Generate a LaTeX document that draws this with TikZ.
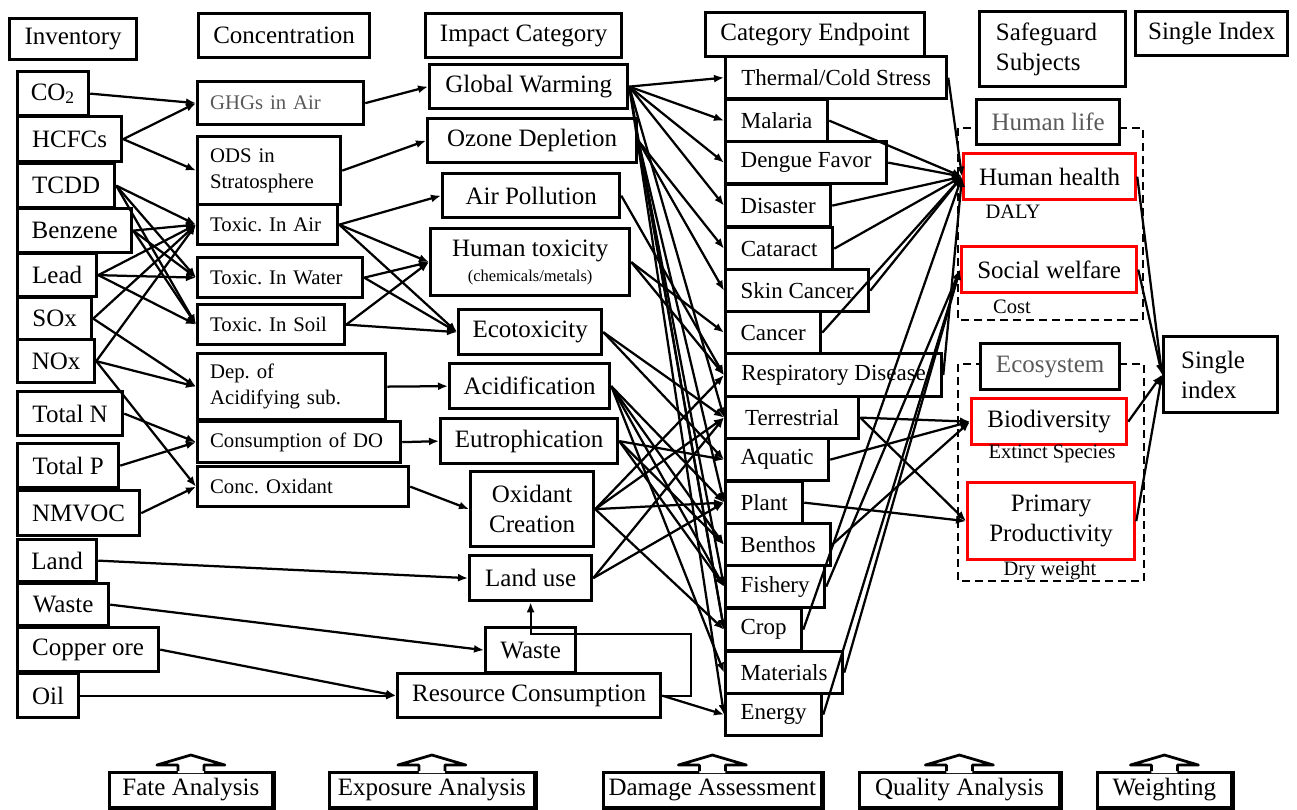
\documentclass[tikz,border=0pt]{standalone}
\usepackage{fontspec}
\setmainfont{Liberation Serif}
\usetikzlibrary{arrows.meta}
\frenchspacing

\begin{document}
\begin{tikzpicture}[
  x=0.4pt,
  y=-0.4pt,
  bw/.style={minimum width=#1*0.4pt},
  bh/.style={minimum height=#1*0.4pt},
  cell/.style={
    draw=black,
    line width=1.3pt,
    fill=white,
    anchor=north west,
    inner sep=1pt,
    align=center,
    font={\fontsize{10}{12}\selectfont}
  },
  leftcell/.style={cell, bw=#1, text width=#1*0.4pt-13pt, inner xsep=6.5pt, align=left},
  header/.style={cell, bh=44},
  inv/.style={cell, bh=44},
  conc/.style={
    cell, bw=#1, text width=#1*0.4pt-10pt, bh=40,
    inner xsep=5pt, align=left,
    font={\fontsize{8.3}{10.4}\selectfont}
  },
  impact/.style={cell, bh=44},
  endp/.style={cell, bh=42, font={\fontsize{9.2}{11}\selectfont}},
  guard/.style={cell, draw=red, bh=46},
  grouphead/.style={cell, bh=45, text=black!65},
  stage/.style={cell, bh=35, line width=1.1pt},
  note/.style={font={\fontsize{8.2}{10}\selectfont}},
  frame/.style={draw=black, line width=1.1pt, dash pattern=on 3.2pt off 2pt},
  link/.style={draw=black, line width=0.9pt, -{Latex[length=4pt,width=3.2pt]}}
]

% page size of the reference, all coordinates in pixels (y grows downwards)
\useasboundingbox (0,0) rectangle (1297,809);

% dashed groups of the safeguard subjects sit underneath
\draw[frame] (958,128) rectangle (1143,320);
\draw[frame] (958,364) rectangle (1144,581);

% column headers
\node[header, bw=127, bh=41] (hinv) at (8,17) {Inventory};
\node[header, bw=171] (hconc) at (197,12) {Concentration};
\node[header, bw=196] (himp) at (424,12) {Impact Category};
\node[header, bw=219] (hend) at (704,11) {Category Endpoint};
\node[leftcell=146, bh=75] (hsafe) at (978,10) {Safeguard\\Subjects};
\node[header, bw=152] (hidx) at (1134,10) {Single Index};

% inventory
\node[inv, bw=71] (co2) at (16,70) {CO\textsubscript{2}};
\node[inv, bw=104, bh=45] (hcfc) at (16,115) {HCFCs};
\node[inv, bw=97] (tcdd) at (16,162) {TCDD};
\node[inv, bw=114] (benz) at (16,207) {Benzene};
\node[inv, bw=79, bh=43] (lead) at (16,252) {Lead};
\node[inv, bw=74, bh=42] (sox) at (16,296) {SOx};
\node[inv, bw=77, bh=43] (nox) at (16,338) {NOx};
\node[inv, bw=105] (totn) at (16,390) {Total N};
\node[inv, bw=101] (totp) at (16,442) {Total P};
\node[inv, bw=122, bh=45] (nmvoc) at (16,489) {NMVOC};
\node[inv, bw=79, bh=42] (land) at (16,538) {Land};
\node[inv, bw=91, bh=42] (wastein) at (16,582) {Waste};
\node[inv, bw=141] (copper) at (16,626) {Copper ore};
\node[inv, bw=61] (oil) at (16,672) {Oil};

% concentration
\node[conc=166, bh=43, text=black!65] (ghg) at (196,80) {GHGs in Air};
\node[conc=143, bh=68] (ods) at (196,135) {ODS in\\Stratosphere};
\node[conc=140] (tair) at (196,203) {Toxic. In Air};
\node[conc=165] (twat) at (196,256) {Toxic. In Water};
\node[conc=147] (tsoil) at (196,303) {Toxic. In Soil};
\node[conc=188, bh=66] (dep) at (196,352) {Dep. of\\Acidifying sub.};
\node[conc=203, bh=41] (cdo) at (196,420) {Consumption of DO};
\node[conc=211] (cox) at (196,465) {Conc. Oxidant};

% impact categories
\node[impact, bw=198] (gw) at (428,63) {Global Warming};
\node[impact, bw=209] (od) at (426,117) {Ozone Depletion};
\node[impact, bw=177] (ap) at (441,172) {Air Pollution};
\node[impact, bw=199, bh=67] (ht) at (429,227)
  {Human toxicity\\[-2pt]{\fontsize{6.6}{8}\selectfont(chemicals/metals)}};
\node[impact, bw=143, bh=45] (eco) at (457,308) {Ecotoxicity};
\node[impact, bw=160, bh=45] (acid) at (448,362) {Acidification};
\node[impact, bw=177, bh=45] (eut) at (439,417) {Eutrophication};
\node[impact, bw=123, bh=75] (oxc) at (469,470) {Oxidant\\Creation};
\node[impact, bw=122, bh=45] (lu) at (468,554) {Land use};
\node[impact, bw=90, bh=45] (wst) at (484,626) {Waste};
\node[impact, bw=263] (rc) at (396,672) {Resource Consumption};

% category endpoints
\node[endp, bw=221] (tcs) at (724,55) {Thermal/Cold Stress};
\node[endp, bw=102] (mal) at (724,98) {Malaria};
\node[endp, bw=161] (den) at (724,140) {Dengue Favor};
\node[endp, bw=105] (dis) at (724,183) {Disaster};
\node[endp, bw=107] (cat) at (724,226) {Cataract};
\node[endp, bw=143] (skin) at (724,268) {Skin Cancer};
\node[endp, bw=95] (canc) at (724,310) {Cancer};
\node[endp, bw=216, bh=43] (resp) at (724,352) {Respiratory Disease};
\node[endp, bw=133] (terr) at (724,395) {Terrestrial};
\node[endp, bw=103] (aqu) at (724,437) {Aquatic};
\node[endp, bw=77] (plant) at (724,480) {Plant};
\node[endp, bw=105] (ben) at (724,522) {Benthos};
\node[endp, bw=99] (fish) at (724,564) {Fishery};
\node[endp, bw=76] (crop) at (724,607) {Crop};
\node[endp, bw=117] (mat) at (724,650) {Materials};
\node[endp, bw=96] (ene) at (724,692) {Energy};

% safeguard subjects
\node[grouphead, bw=143] (hlife) at (975,98) {Human life};
\node[guard, bw=172] (hh) at (962,152) {Human health};
\node[guard, bw=175] (sw) at (960,245) {Social welfare};
\node[grouphead, bw=139, bh=46] (ecos) at (979,342) {Ecosystem};
\node[guard, bw=155] (bio) at (970,397) {Biodiversity};
\node[guard, bw=167, bh=77] (pp) at (966,481) {Primary\\Productivity};
\node[note] (daly) at (1013,212) {DALY};
\node[note] (cost) at (1012,307) {Cost};
\node[note] (ext) at (1052,454) {Extinct Species};
\node[note] (dry) at (1050,571) {Dry weight};

% single index
\node[leftcell=111, bh=76, inner xsep=7pt] (si) at (1162,335) {Single\\index};

% analysis steps along the bottom
\node[stage, bw=163] (fate) at (108,771) {Fate Analysis};
\node[stage, bw=205] (expo) at (328,771) {Exposure Analysis};
\node[stage, bw=218] (dmg) at (602,771) {Damage Assessment};
\node[stage, bw=200] (qual) at (858,771) {Quality Analysis};
\node[stage, bw=134] (wgt) at (1096,771) {Weighting};

\foreach \s in {fate,expo,dmg,qual,wgt}{
  \draw[line width=2pt] (\s.north east) -- (\s.south east) -- (\s.south west);
  \begin{scope}[shift={(\s.north)}]
    \fill[white] (-13,2) -- (-13,-6) -- (-34,-6) -- (0,-16) -- (34,-6) -- (13,-6) -- (13,2) -- cycle;
    \draw[line width=1.1pt, line join=round]
      (-13,0) -- (-13,-6) -- (-34,-6) -- (0,-16) -- (34,-6) -- (13,-6) -- (13,0);
  \end{scope}
}

% inventory -> concentration
\draw[link] (co2.east) -- (ghg.west);
\draw[link] (hcfc.east) -- (ghg.west);
\draw[link] (hcfc.east) -- (ods.west);
\draw[link] (tcdd.east) -- (tair.west);
\draw[link] (tcdd.east) -- (twat.west);
\draw[link] (tcdd.east) -- (tsoil.west);
\draw[link] (benz.east) -- (tair.west);
\draw[link] (benz.east) -- (twat.west);
\draw[link] (benz.east) -- (tsoil.west);
\draw[link] (lead.east) -- (tair.west);
\draw[link] (lead.east) -- (twat.west);
\draw[link] (lead.east) -- (tsoil.west);
\draw[link] (sox.east) -- (tair.west);
\draw[link] (sox.east) -- (dep.west);
\draw[link] (nox.east) -- (tair.west);
\draw[link] (nox.east) -- (dep.west);
\draw[link] (nox.east) -- (cox.west);
\draw[link] (totn.east) -- (cdo.west);
\draw[link] (totp.east) -- (cdo.west);
\draw[link] (nmvoc.east) -- (cox.west);
\draw[link] (land.east) -- (lu.west);
\draw[link] (wastein.east) -- (wst.west);
\draw[link] (copper.east) -- (rc.west);
\draw[link] (oil.east) -- (rc.west);

% concentration -> impact category
\draw[link] (ghg.east) -- (gw.west);
\draw[link] (ods.east) -- (od.west);
\draw[link] (tair.east) -- (ap.west);
\draw[link] (tair.east) -- (ht.west);
\draw[link] (tair.east) -- (eco.west);
\draw[link] (twat.east) -- (ht.west);
\draw[link] (twat.east) -- (eco.west);
\draw[link] (tsoil.east) -- (ht.west);
\draw[link] (tsoil.east) -- (eco.west);
\draw[link] (dep.east) -- (acid.west);
\draw[link] (cdo.east) -- (eut.west);
\draw[link] (cox.east) -- (oxc.west);

% resource consumption feeds back into land use
\coordinate (rcturn) at (691,634);
\draw[link] (rc.east) -| (rcturn) -| (lu.south);

% impact category -> category endpoint
\draw[link] (gw.east) -- (tcs.west);
\draw[link] (gw.east) -- (mal.west);
\draw[link] (gw.east) -- (den.west);
\draw[link] (gw.east) -- (dis.west);
\draw[link] (gw.east) -- (terr.west);
\draw[link] (gw.east) -- (crop.west);
\draw[link] (gw.east) -- (ene.west);
\draw[link] (od.east) -- (cat.west);
\draw[link] (od.east) -- (skin.west);
\draw[link] (od.east) -- (plant.west);
\draw[link] (od.east) -- (fish.west);
\draw[link] (od.east) -- (crop.west);
\draw[link] (ap.east) -- (resp.west);
\draw[link] (ht.east) -- (canc.west);
\draw[link] (ht.east) -- (resp.west);
\draw[link] (eco.east) -- (terr.west);
\draw[link] (eco.east) -- (aqu.west);
\draw[link] (acid.east) -- (plant.west);
\draw[link] (acid.east) -- (ben.west);
\draw[link] (acid.east) -- (fish.west);
\draw[link] (acid.east) -- (mat.west);
\draw[link] (eut.east) -- (aqu.west);
\draw[link] (eut.east) -- (ben.west);
\draw[link] (eut.east) -- (fish.west);
\draw[link] (oxc.east) -- (resp.west);
\draw[link] (oxc.east) -- (terr.west);
\draw[link] (oxc.east) -- (plant.west);
\draw[link] (oxc.east) -- (crop.west);
\draw[link] (lu.east) -- (terr.west);
\draw[link] (lu.east) -- (plant.west);
\draw[link] (rc.east) -- (ene.west);

% category endpoint -> safeguard subjects
\draw[link] (tcs.east) -- (hh.west);
\draw[link] (mal.east) -- (hh.west);
\draw[link] (den.east) -- (hh.west);
\draw[link] (dis.east) -- (hh.west);
\draw[link] (cat.east) -- (hh.west);
\draw[link] (skin.east) -- (hh.west);
\draw[link] (canc.east) -- (hh.west);
\draw[link] (resp.east) -- (hh.west);
\draw[link] (crop.east) -- (hh.west);
\draw[link] (fish.east) -- (sw.west);
\draw[link] (mat.east) -- (sw.west);
\draw[link] (ene.east) -- (sw.west);
\draw[link] (terr.east) -- (bio.west);
\draw[link] (aqu.east) -- (bio.west);
\draw[link] (ben.east) -- (bio.west);
\draw[link] (terr.east) -- (pp.west);
\draw[link] (plant.east) -- (pp.west);

% safeguard subjects -> single index
\draw[link] (hh.east) -- (si.west);
\draw[link] (sw.east) -- (si.west);
\draw[link] (bio.east) -- (si.west);
\draw[link] (pp.east) -- (si.west);

\end{tikzpicture}
\end{document}
